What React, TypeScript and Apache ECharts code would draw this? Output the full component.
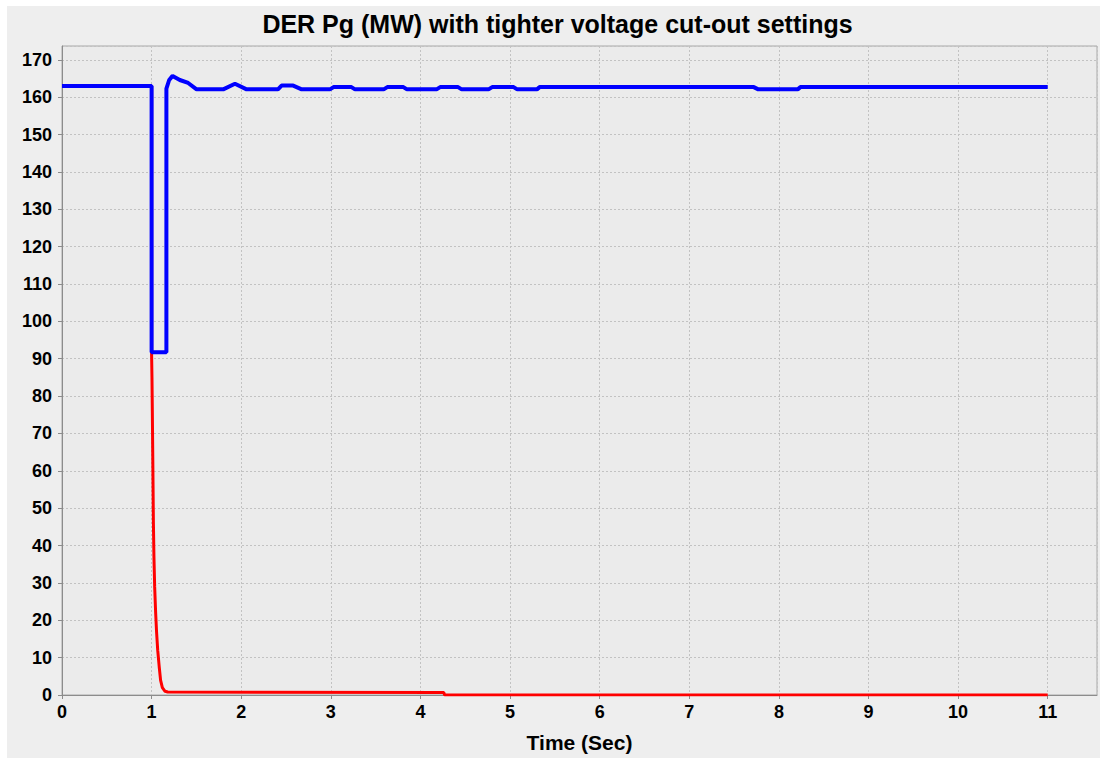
import React, { useEffect, useRef } from "react";
import * as echarts from "echarts";

// Chart texts
const chartTitle = "DER Pg (MW) with tighter voltage cut-out settings";
const xAxisName = "Time (Sec)";

// Axis ranges and tick spacing
const xMin = 0;
const xMax = 11.55;
const xStep = 1;
const yMin = 0;
const yMax = 173.7;
const yStep = 10;

// Blue trace: DER active power (MW) vs time (s)
const blueTime = [
  0, 1.0, 1.0, 1.165, 1.165, 1.196, 1.234, 1.315, 1.408, 1.502, 1.799, 1.93, 2.06,
  2.41, 2.45, 2.58, 2.675, 2.99, 3.03, 3.23, 3.27, 3.59, 3.63, 3.81, 3.85, 4.18,
  4.22, 4.42, 4.46, 4.76, 4.8, 5.04, 5.08, 5.3, 5.33, 7.72, 7.77, 8.21, 8.24, 11.0,
];
const blueMW = [
  163.0, 163.0, 91.75, 91.75, 162.3, 164.6, 165.7, 164.6, 163.8, 162.1, 162.1, 163.6,
  162.1, 162.1, 163.1, 163.1, 162.1, 162.1, 162.7, 162.7, 162.1, 162.1, 162.7, 162.7,
  162.1, 162.1, 162.7, 162.7, 162.1, 162.1, 162.7, 162.7, 162.1, 162.1, 162.7, 162.7,
  162.1, 162.1, 162.7, 162.7,
];

// Red trace: DER active power (MW) vs time (s)
const redTime = [
  0, 1.0, 1.0, 1.004, 1.008, 1.012, 1.016, 1.02, 1.026, 1.034, 1.045, 1.055, 1.068,
  1.085, 1.1, 1.12, 1.15, 1.18, 4.26, 4.27, 11.0,
];
const redMW = [
  163, 163, 91, 85, 76, 66, 56, 46, 37, 29, 22, 17, 12, 7.5, 4, 2, 1, 0.8, 0.7, 0, 0,
];

const FONT = '"Liberation Sans", Arial, Helvetica, sans-serif';

const zip = (xs: number[], ys: number[]) => xs.map((x, i) => [x, ys[i]]);

export default function App() {
  const ref = useRef<HTMLDivElement>(null);

  useEffect(() => {
    if (!ref.current) return;
    const chart = echarts.init(ref.current, null, { renderer: "svg" });

    const axisLine = { show: true, lineStyle: { color: "#8c8c8c", width: 1 } };
    const axisTick = { show: true, inside: false, length: 4, lineStyle: { color: "#8c8c8c", width: 1 } };
    const splitLine = { show: true, lineStyle: { color: "#c2c2c2", width: 1, type: [2, 2] } };
    const labelStyle = { color: "#000", fontFamily: FONT, fontWeight: "bold" as const, fontSize: 18 };

    chart.setOption({
      animation: false,
      backgroundColor: "#eeeeee",
      graphic: [
        { type: "rect", silent: true, z: -10, shape: { x: 0, y: 0, width: 1100, height: 6 }, style: { fill: "#ffffff" } },
        { type: "rect", silent: true, z: -10, shape: { x: 0, y: 0, width: 7, height: 758 }, style: { fill: "#ffffff" } },
        {
          type: "text",
          silent: true,
          x: 557.5,
          y: 23.5,
          style: {
            text: chartTitle,
            textAlign: "center",
            textVerticalAlign: "middle",
            fill: "#000",
            font: `bold 25px ${FONT}`,
          },
        },
      ],
      grid: {
        left: 62,
        right: 3,
        top: 46,
        bottom: 63,
        show: true,
        backgroundColor: "#ebebeb",
        borderColor: "#a8a8a8",
        borderWidth: 1,
        containLabel: false,
      },
      xAxis: {
        type: "value",
        min: xMin,
        max: xMax,
        interval: xStep,
        axisLine,
        axisTick,
        splitLine,
        axisLabel: {
          ...labelStyle,
          margin: 8,
          showMaxLabel: false,
          formatter: (v: number) => (Number.isInteger(v) ? String(v) : ""),
        },
        name: xAxisName,
        nameLocation: "middle",
        nameGap: 37,
        nameTextStyle: { color: "#000", fontFamily: FONT, fontWeight: "bold", fontSize: 21 },
      },
      yAxis: {
        type: "value",
        min: yMin,
        max: yMax,
        interval: yStep,
        axisLine,
        axisTick,
        splitLine,
        axisLabel: {
          ...labelStyle,
          margin: 10,
          showMaxLabel: false,
          formatter: (v: number) => (v % 10 === 0 ? String(v) : ""),
        },
      },
      series: [
        {
          type: "line",
          data: zip(redTime, redMW),
          showSymbol: false,
          symbol: "none",
          clip: true,
          lineStyle: { color: "#ff0000", width: 3 },
          z: 2,
        },
        {
          type: "line",
          data: zip(blueTime, blueMW),
          showSymbol: false,
          symbol: "none",
          clip: true,
          lineStyle: { color: "#0000ff", width: 4 },
          z: 3,
        },
      ],
    });

    return () => chart.dispose();
  }, []);

  return (
    <div
      ref={ref}
      style={{ position: "absolute", left: 0, top: 0, width: 1100, height: 758 }}
    />
  );
}
